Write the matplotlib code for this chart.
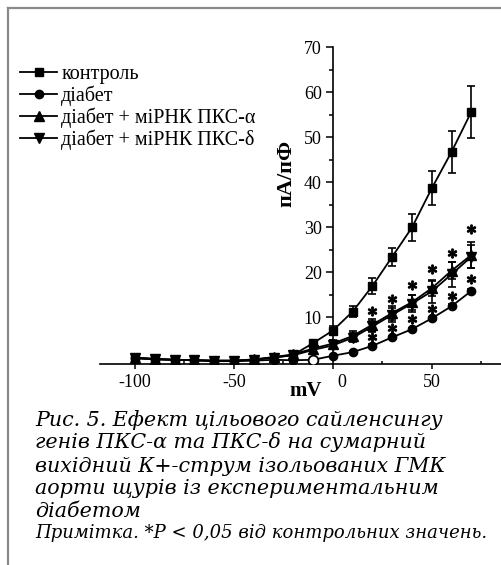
import matplotlib
matplotlib.use('Agg')
import matplotlib.pyplot as plt
from matplotlib.lines import Line2D
from matplotlib.transforms import ScaledTranslation

# ---------------- data ----------------
voltage = [-100, -90, -80, -70, -60, -50, -40, -30, -20, -10, 0, 10, 20, 30, 40, 50, 60, 70]

control = [1.0, 0.7, 0.5, 0.4, 0.3, 0.3, 0.5, 1.0, 1.6, 4.2, 7.0, 11.2, 16.9, 23.4, 29.9, 38.6, 46.7, 55.6]
control_err = [0.3, 0.2, 0.2, 0.2, 0.2, 0.2, 0.2, 0.3, 0.4, 0.6, 1.0, 1.2, 1.7, 2.0, 3.0, 3.8, 4.6, 5.8]

diabetes = [0.8, 0.6, 0.5, 0.4, 0.2, 0.2, 0.3, 0.5, 0.4, 0.5, 1.4, 2.2, 3.6, 5.5, 7.3, 9.7, 12.4, 15.8]
diabetes_err = [0.1, 0.1, 0.1, 0.1, 0.1, 0.1, 0.1, 0.1, 0.1, 0.1, 0.2, 0.2, 0.3, 0.3, 0.3, 0.4, 0.4, 0.5]

alpha = [1.0, 0.7, 0.5, 0.4, 0.3, 0.3, 0.6, 1.1, 1.7, 3.0, 4.1, 5.8, 8.3, 10.9, 13.3, 16.4, 20.3, 23.8]
alpha_err = [0.2, 0.2, 0.2, 0.2, 0.2, 0.2, 0.2, 0.3, 0.4, 0.5, 0.7, 1.0, 1.3, 1.6, 1.7, 1.7, 1.9, 2.9]

delta = [0.9, 0.6, 0.5, 0.4, 0.3, 0.3, 0.5, 1.0, 1.5, 2.7, 3.7, 5.4, 7.9, 10.5, 13.0, 15.7, 19.5, 23.4]
delta_err = [0.2, 0.2, 0.2, 0.2, 0.2, 0.2, 0.2, 0.3, 0.4, 0.5, 0.7, 1.0, 1.3, 1.6, 1.8, 2.5, 2.8, 2.5]

open_point_voltage = -10  # diabetes point drawn hollow

star_x = [20, 30, 40, 50, 60, 70]
star_upper = [11.4, 14.0, 17.1, 20.6, 24.2, 29.5]
star_lower = [5.6, 7.5, 9.5, 11.7, 14.7, 18.4]

labels = ['контроль', 'діабет', 'діабет + міРНК ПКС-α', 'діабет + міРНК ПКС-δ']

x_ticks = [-100, -50, 0, 50]
x_tick_labels = ['-100', '-50', '0', '50']
x_minor = [-75, -25, 25, 75]
y_ticks = [10, 20, 30, 40, 50, 60, 70]
y_tick_labels = ['10', '20', '30', '40', '50', '60', '70']
y_minor = [5, 15, 25, 35, 45, 55, 65]

caption = ['Рис. 5. Ефект цільового сайленсингу',
           'генів ПКС-α та ПКС-δ на сумарний',
           'вихідний К+-струм ізольованих ГМК',
           'аорти щурів із експериментальним',
           'діабетом']
note = 'Примітка. *P < 0,05 від контрольних значень.'

# ---------------- figure ----------------
plt.rcParams['font.family'] = ['Liberation Serif', 'DejaVu Serif']
plt.rcParams['mathtext.fontset'] = 'stix'

W, H = 502, 565
fig = plt.figure(figsize=(W / 100, H / 100), dpi=100)
ax = fig.add_axes([100 / W, 1 - 364.3 / H, 402 / W, (364.3 - 47) / H])
ax.set_xlim(-117.7, 85.5)
ax.set_ylim(-0.5, 70)

series = [(control, control_err, 's', 5.5),
          (diabetes, diabetes_err, 'o', 6.0),
          (alpha, alpha_err, '^', 6.5),
          (delta, delta_err, 'v', 6.5)]
handles = []
for (vals, err, mk, ms), lab in zip(series, labels):
    c = ax.errorbar(voltage, vals, yerr=err, color='black', lw=1.3, marker=mk, ms=ms,
                    capsize=3, elinewidth=1.2, capthick=1.2, label=lab)
    handles.append(c[0])

i_open = voltage.index(open_point_voltage)
ax.plot([voltage[i_open]], [diabetes[i_open]], 'o', mfc='white', mec='black', mew=1.3,
        ms=7, zorder=5)

ax.plot(star_x, star_upper, ls='none', marker='$*$', ms=6.5, color='black')
ax.plot(star_x, star_lower, ls='none', marker='$*$', ms=6.5, color='black')

for s in ['top', 'right']:
    ax.spines[s].set_visible(False)
ax.spines['left'].set_position(('data', 0))
for s in ['left', 'bottom']:
    ax.spines[s].set_linewidth(1.2)

ax.set_xticks(x_ticks)
ax.set_xticklabels(x_tick_labels)
ax.set_xticks(x_minor, minor=True)
ax.set_yticks(y_ticks)
ax.set_yticklabels(y_tick_labels)
ax.set_yticks(y_minor, minor=True)
ax.tick_params(axis='x', which='major', direction='out', length=3.8, width=1.1, pad=3, labelsize=13)
ax.tick_params(axis='x', which='minor', direction='in', length=2.3, width=1.1)
ax.tick_params(axis='y', which='major', direction='out', length=5, width=1.1, pad=3, labelsize=13)
ax.tick_params(axis='y', which='minor', direction='out', length=2.9, width=1.1)

# shift the "0" x label right, away from the y axis
for t in ax.get_xticklabels():
    if t.get_text() == '0':
        t.set_transform(t.get_transform() + ScaledTranslation(9 / 100, 0, fig.dpi_scale_trans))

fig.text(286 / W, 1 - 173 / H, 'пА/пФ', rotation=90, ha='center', va='center',
         fontsize=16, fontweight='bold')
fig.text(306 / W, 1 - 391 / H, 'mV', ha='center', va='center', fontsize=15, fontweight='bold')

ax.legend(handles, labels, loc='upper left', bbox_to_anchor=(20 / W, 1 - 65 / H),
          bbox_transform=fig.transFigure, frameon=False, fontsize=14.5, handlelength=1.85,
          handletextpad=0.2, labelspacing=0.08, borderpad=0, borderaxespad=0)

# caption
baselines = [426, 448.5, 472, 494.5, 517]
for line, yb in zip(caption, baselines):
    fig.text(35 / W, 1 - yb / H, line, fontsize=14.9, family='DejaVu Serif', style='italic',
             va='baseline', ha='left')
fig.text(35 / W, 1 - 538.5 / H, note, fontsize=13, family='DejaVu Serif', style='italic',
         va='baseline', ha='left')

# frame lines (top and left)
fig.add_artist(Line2D([8.5 / W, 8.5 / W], [0, 1 - 7.5 / H], transform=fig.transFigure,
                      color='#8a8a8a', lw=1.6))
fig.add_artist(Line2D([8 / W, 1], [1 - 7.5 / H, 1 - 7.5 / H], transform=fig.transFigure,
                      color='#8a8a8a', lw=1.6))

fig.savefig('out.png', dpi=100)
